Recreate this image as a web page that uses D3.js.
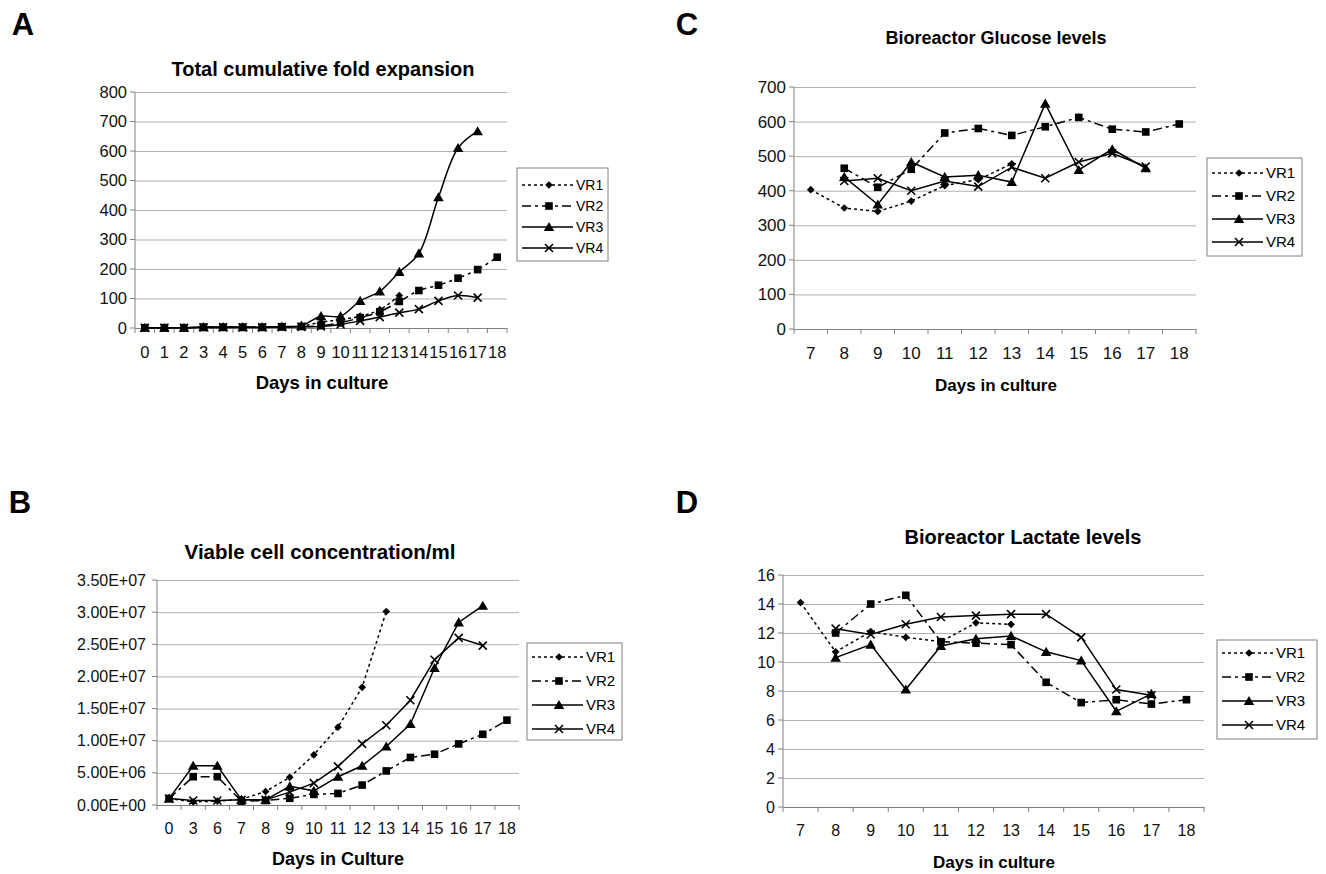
<!DOCTYPE html>
<html>
<head>
<meta charset="utf-8">
<script src="https://cdn.jsdelivr.net/npm/d3@7"></script>
<style>
  body { margin: 0; background: #fff; }
  svg { font-family: "Liberation Sans", Arial, sans-serif; }
</style>
</head>
<body>
<svg id="chart" width="1326" height="874"></svg>
<script>
// --- data ---
var daysA = ["0","1","2","3","4","5","6","7","8","9","10","11","12","13","14","15","16","17","18"];
var foldVR1 = [1,1,1,2,2,3,3,4,6,20,28,40,62,110];
var foldVR2 = [1,1,1,3,3,3,3,4,5,8,18,35,55,90,127,145,169,198,240];
var foldVR3 = [1,1,1,3,3,3,3,5,8,40,40,92,124,190,253,443,610,667];
var foldVR4 = [1,1,1,2,2,2,2,3,4,5,12,24,37,52,64,92,110,103];

var daysB = ["0","3","6","7","8","9","10","11","12","13","14","15","16","17","18"];
var cellsVR1 = [1.0e6,0.5e6,0.6e6,0.9e6,2.1e6,4.3e6,7.8e6,1.21e7,1.83e7,3.01e7];
var cellsVR2 = [1.0e6,4.4e6,4.4e6,0.6e6,0.7e6,1.05e6,1.65e6,1.8e6,3.1e6,5.3e6,7.4e6,7.9e6,9.5e6,1.1e7,1.32e7];
var cellsVR3 = [1.0e6,6.1e6,6.1e6,0.8e6,0.8e6,2.9e6,2.2e6,4.4e6,6.1e6,9.1e6,1.26e7,2.13e7,2.84e7,3.1e7];
var cellsVR4 = [1.0e6,0.7e6,0.7e6,0.8e6,0.8e6,2.0e6,3.4e6,6.0e6,9.5e6,1.24e7,1.63e7,2.26e7,2.6e7,2.48e7];

var daysCD = ["7","8","9","10","11","12","13","14","15","16","17","18"];
var glucVR1 = [403,350,340,370,415,432,478];
var glucVR2 = [null,465,410,462,567,580,560,585,612,578,570,593];
var glucVR3 = [null,440,360,483,440,445,425,652,460,520,465];
var glucVR4 = [null,428,436,400,428,412,468,436,483,508,470];

var lactVR1 = [14.1,10.7,12.1,11.7,11.4,12.7,12.6];
var lactVR2 = [null,12.0,14.0,14.6,11.4,11.3,11.2,8.6,7.2,7.4,7.1,7.4];
var lactVR3 = [null,10.3,11.2,8.1,11.1,11.6,11.8,10.7,10.1,6.6,7.8];
var lactVR4 = [null,12.3,11.9,12.6,13.1,13.2,13.3,13.3,11.7,8.1,7.7];

var seriesNames = ["VR1","VR2","VR3","VR4"];

// line styles per series
var styles = [
  { dash: "3,3", marker: "diamond" },
  { dash: "9,4,3,4", marker: "square" },
  { dash: null, marker: "triangle" },
  { dash: null, marker: "x" }
];

var svg = d3.select("#chart");

function sciFmt(v) {
  if (v === 0) return "0.00E+00";
  var e = Math.floor(Math.log10(v));
  var m = v / Math.pow(10, e);
  return m.toFixed(2) + "E+" + (e < 10 ? "0" + e : e);
}

function drawMarker(g, type, x, y) {
  if (type === "x") {
    g.append("path")
      .attr("d", "M" + (x - 4) + "," + (y - 4) + "L" + (x + 4) + "," + (y + 4) +
                 "M" + (x + 4) + "," + (y - 4) + "L" + (x - 4) + "," + (y + 4))
      .attr("stroke", "#000").attr("stroke-width", 1.6).attr("fill", "none");
    return;
  }
  if (type === "diamond") {
    g.append("path")
      .attr("d", d3.symbol().type(d3.symbolSquare).size(30)())
      .attr("transform", "translate(" + x + "," + y + ") rotate(45)")
      .attr("fill", "#000");
    return;
  }
  var sym = type === "square" ? d3.symbolSquare : d3.symbolTriangle;
  var size = type === "square" ? 58 : 48;
  g.append("path")
    .attr("d", d3.symbol().type(sym).size(size)())
    .attr("transform", "translate(" + x + "," + (type === "triangle" ? y + 1 : y) + ")")
    .attr("fill", "#000");
}

function panel(o) {
  var g = svg.append("g");

  var x = d3.scaleBand().domain(o.cats).range([o.left, o.right]).padding(0);
  var y = d3.scaleLinear().domain([0, o.yMax]).range([o.bottom, o.top]);
  var yTicks = d3.range(0, o.yMax + o.yStep / 2, o.yStep);

  // gridlines + y labels
  g.append("g")
    .attr("transform", "translate(" + o.left + ",0)")
    .call(d3.axisLeft(y).tickValues(yTicks).tickSize(-(o.right - o.left)).tickFormat(o.fmt).tickPadding(o.yPad))
    .call(function (a) {
      a.select(".domain").remove();
      a.selectAll(".tick line").attr("stroke", "#b0b0b0").attr("stroke-width", 1);
      a.selectAll(".tick text").attr("font-size", o.tickFont).attr("fill", "#111").attr("font-family", null);
    });
  // y tick marks
  g.selectAll(".ytk").data(yTicks).enter().append("line")
    .attr("x1", o.left - 5).attr("x2", o.left)
    .attr("y1", function (d) { return y(d); }).attr("y2", function (d) { return y(d); })
    .attr("stroke", "#808080");
  g.append("line").attr("x1", o.left).attr("x2", o.left).attr("y1", o.top).attr("y2", o.bottom)
    .attr("stroke", "#808080");

  // x axis
  g.append("g")
    .attr("transform", "translate(0," + o.bottom + ")")
    .call(d3.axisBottom(x).tickSize(0).tickPadding(o.xPad))
    .call(function (a) {
      a.select(".domain").attr("stroke", "#808080");
      a.selectAll(".tick text").attr("font-size", o.tickFont).attr("fill", "#111").attr("font-family", null);
    });
  var bounds = o.cats.map(function (c) { return x(c); }).concat([x(o.cats[o.cats.length - 1]) + x.bandwidth()]);
  g.selectAll(".xtk").data(bounds).enter().append("line")
    .attr("x1", function (d) { return d; }).attr("x2", function (d) { return d; })
    .attr("y1", o.bottom).attr("y2", o.bottom + 5)
    .attr("stroke", "#808080");

  // series
  var cx = function (i) { return x(o.cats[i]) + x.bandwidth() / 2; };
  o.series.forEach(function (vals, si) {
    var pts = vals.map(function (v, i) { return { i: i, v: v }; }).filter(function (p) { return p.v !== null; });
    var line = d3.line()
      .x(function (p) { return cx(p.i); })
      .y(function (p) { return y(p.v); })
      .curve(o.smooth ? d3.curveCatmullRom.alpha(0.5) : d3.curveLinear);
    g.append("path").datum(pts)
      .attr("d", line)
      .attr("fill", "none").attr("stroke", "#000").attr("stroke-width", 1.5)
      .attr("stroke-dasharray", styles[si].dash);
    pts.forEach(function (p) { drawMarker(g, styles[si].marker, cx(p.i), y(p.v)); });
  });

  // titles
  g.append("text").attr("x", o.titleX).attr("y", o.titleY).attr("text-anchor", "middle")
    .attr("font-size", o.titleFont).attr("font-weight", "bold").text(o.title);
  g.append("text").attr("x", o.xTitleX).attr("y", o.xTitleY).attr("text-anchor", "middle")
    .attr("font-size", o.xTitleFont).attr("font-weight", "bold").text(o.xTitle);
  g.append("text").attr("x", o.letter[0]).attr("y", o.letter[1]).attr("text-anchor", "middle")
    .attr("font-size", 31).attr("font-weight", "bold").text(o.letter[2]);

  // legend
  var L = o.legend;
  g.append("rect").attr("x", L.x).attr("y", L.y).attr("width", L.w).attr("height", L.h)
    .attr("fill", "#fff").attr("stroke", "#808080");
  seriesNames.forEach(function (n, i) {
    var ly = L.y + L.first + i * L.gap;
    g.append("line").attr("x1", L.x + 5).attr("x2", L.x + 56).attr("y1", ly).attr("y2", ly)
      .attr("stroke", "#000").attr("stroke-width", 1.5).attr("stroke-dasharray", styles[i].dash);
    drawMarker(g, styles[i].marker, L.x + 32, ly);
    g.append("text").attr("x", L.x + 59).attr("y", ly + 5).attr("font-size", L.font).text(n);
  });
}

panel({
  cats: daysA, series: [foldVR1, foldVR2, foldVR3, foldVR4], smooth: true,
  left: 135, right: 507, top: 92, bottom: 328, yMax: 800, yStep: 100, fmt: d3.format("d"),
  xPad: 18, yPad: 8, tickFont: 16.5, titleFont: 20, xTitleFont: 18.5,
  title: "Total cumulative fold expansion", titleX: 323, titleY: 76,
  xTitle: "Days in culture", xTitleX: 322, xTitleY: 389, letter: [23, 35, "A"],
  legend: { x: 517, y: 168, w: 91, h: 93, first: 17, gap: 21, font: 14 }
});

panel({
  cats: daysB, series: [cellsVR1, cellsVR2, cellsVR3, cellsVR4], smooth: false,
  left: 157, right: 519, top: 580, bottom: 805, yMax: 3.5e7, yStep: 5e6, fmt: sciFmt,
  xPad: 18, yPad: 11, tickFont: 16, titleFont: 20.5, xTitleFont: 18,
  title: "Viable cell concentration/ml", titleX: 320, titleY: 559,
  xTitle: "Days in Culture", xTitleX: 338, xTitleY: 865, letter: [20, 513, "B"],
  legend: { x: 527, y: 643, w: 95, h: 97, first: 14, gap: 24, font: 15 }
});

panel({
  cats: daysCD, series: [glucVR1, glucVR2, glucVR3, glucVR4], smooth: false,
  left: 794, right: 1196, top: 87, bottom: 329, yMax: 700, yStep: 100, fmt: d3.format("d"),
  xPad: 18, yPad: 8, tickFont: 17, titleFont: 18, xTitleFont: 17,
  title: "Bioreactor Glucose levels", titleX: 996, titleY: 44,
  xTitle: "Days in culture", xTitleX: 996, xTitleY: 391, letter: [687, 35, "C"],
  legend: { x: 1207, y: 158, w: 95, h: 98, first: 15, gap: 23, font: 15 }
});

panel({
  cats: daysCD, series: [lactVR1, lactVR2, lactVR3, lactVR4], smooth: false,
  left: 783, right: 1204, top: 575, bottom: 807, yMax: 16, yStep: 2, fmt: d3.format("d"),
  xPad: 18, yPad: 8, tickFont: 16, titleFont: 20, xTitleFont: 17,
  title: "Bioreactor Lactate levels", titleX: 1023, titleY: 544,
  xTitle: "Days in culture", xTitleX: 994, xTitleY: 868, letter: [687, 513, "D"],
  legend: { x: 1217, y: 640, w: 100, h: 99, first: 13, gap: 24, font: 15 }
});
</script>
</body>
</html>
